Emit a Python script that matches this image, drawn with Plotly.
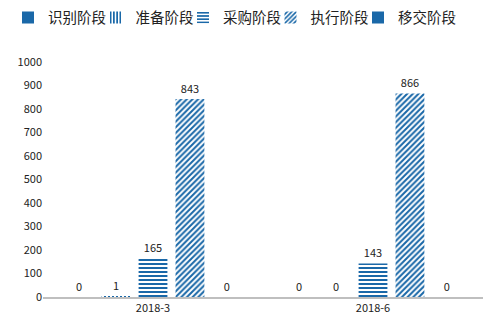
import plotly.graph_objects as go

categories = ["2018-3", "2018-6"]
series_names = ["识别阶段", "准备阶段", "采购阶段", "执行阶段", "移交阶段"]
values = {
    "识别阶段": [0, 0],
    "准备阶段": [1, 0],
    "采购阶段": [165, 143],
    "执行阶段": [843, 866],
    "移交阶段": [0, 0],
}
patterns = {"识别阶段": "", "准备阶段": "|", "采购阶段": "-", "执行阶段": "/", "移交阶段": ""}
y_ticks = [0, 100, 200, 300, 400, 500, 600, 700, 800, 900, 1000]

W, H = 493, 333
blue = "#1A68A8"
fig = go.Figure()
legend_layout = {}
for i, name in enumerate(series_names):
    pat = patterns[name]
    if pat:
        marker = dict(color="white", line=dict(width=0),
                      pattern=dict(shape=pat, fgcolor=blue, bgcolor="white",
                                   size=4, solidity=0.5, fillmode="replace"))
    else:
        marker = dict(color=blue, line=dict(width=0))
    lname = "legend" if i == 0 else f"legend{i + 1}"
    fig.add_trace(go.Bar(
        name=name, x=categories, y=values[name],
        text=[str(v) for v in values[name]], textposition="outside",
        textfont=dict(size=11, color="#222222"),
        marker=marker, legend=lname,
        cliponaxis=False,
    ))
    legend_layout[lname] = dict(
        orientation="h", x=(48 + 87.5 * i - 40) / W, xanchor="left",
        y=0.995, yanchor="top", xref="container", yref="container",
        font=dict(size=14.5), itemwidth=30, bgcolor="rgba(0,0,0,0)",
    )

fig.update_layout(
    width=W, height=H,
    margin=dict(l=43, r=10, t=62, b=36),
    plot_bgcolor="white", paper_bgcolor="white",
    barmode="group", bargap=0.16, bargroupgap=0.22,
    font=dict(family="Noto Sans CJK SC, DejaVu Sans", color="#222222"),
    showlegend=True,
    xaxis=dict(type="category", showline=True, linecolor="#BFBFBF", linewidth=1.5,
               ticks="", tickfont=dict(size=11)),
    yaxis=dict(range=[0, 1000], tickvals=y_ticks, showgrid=False, zeroline=False,
               showline=False, tickfont=dict(size=11), ticks=""),
    **legend_layout,
)
fig.write_html("out.html")
